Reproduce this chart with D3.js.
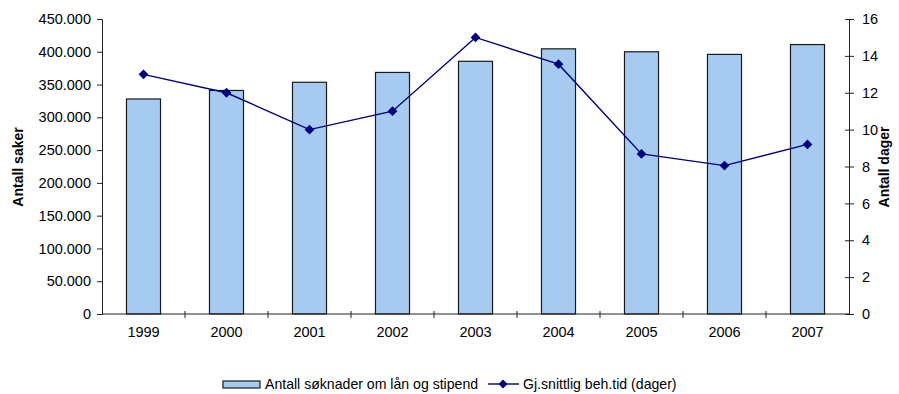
<!DOCTYPE html>
<html><head><meta charset="utf-8">
<script src="https://cdn.jsdelivr.net/npm/d3@7"></script>
<style>
body{margin:0;background:#fff;}
svg{display:block;font-family:"Liberation Sans",Arial,sans-serif;}
</style></head><body>
<svg id="c" width="899" height="394"></svg>
<script>
const years = ["1999","2000","2001","2002","2003","2004","2005","2006","2007"];
const applications = [328000, 341000, 353500, 368500, 385500, 404500, 400000, 396000, 411000];
const days = [13.0, 12.0, 10.0, 11.0, 15.0, 13.55, 8.68, 8.05, 9.2];
const leftTicks = [0,50000,100000,150000,200000,250000,300000,350000,400000,450000];
const rightTicks = [0,2,4,6,8,10,12,14,16];
const seriesNames = ["Antall søknader om lån og stipend","Gj.snittlig beh.tid (dager)"];
const axisTitles = ["Antall saker","Antall dager"];

const svg = d3.select("#c");
const L=102, R=849, T=19, B=314;
const x = d3.scaleBand().domain(years).range([L,R]).paddingInner(0.59).paddingOuter(0.295);
const yL = d3.scaleLinear().domain([0,450000]).range([B,T]);
const yR = d3.scaleLinear().domain([0,16]).range([B,T]);
const fmt = d => d===0 ? "0" : d3.format(",")(d).replace(/,/g,".");
const axisColor="#222";

// bars
svg.append("g").selectAll("rect").data(years).join("rect")
  .attr("x", d=>x(d)).attr("width", x.bandwidth())
  .attr("y", (d,i)=>yL(applications[i])).attr("height",(d,i)=>B-yL(applications[i]))
  .attr("fill","#A6CAF0").attr("stroke","#1a1a1a").attr("stroke-width",1.2);

// left axis
const gl = svg.append("g").attr("transform",`translate(${L},0)`)
  .call(d3.axisLeft(yL).tickValues(leftTicks).tickFormat(fmt).tickSize(5).tickPadding(6));
// right axis
const gr = svg.append("g").attr("transform",`translate(${R},0)`)
  .call(d3.axisRight(yR).tickValues(rightTicks).tickSize(5).tickPadding(8));
gr.selectAll(".tick line").attr("x1",-4);
// bottom axis
const gb = svg.append("g").attr("transform",`translate(0,${B})`)
  .call(d3.axisBottom(x).tickSize(0).tickPadding(13));
gb.select(".domain").attr("d",`M${L},0H${R}`);
const bounds = d3.range(1, years.length).map(i => x(years[i]) - x.step()*x.paddingInner()/2);
gb.selectAll(".bt").data(bounds).join("line").attr("class","bt")
  .attr("x1",d=>d).attr("x2",d=>d).attr("y1",-3).attr("y2",4).attr("stroke",axisColor);

[gl,gr,gb].forEach(g=>{
  g.selectAll(".domain").attr("stroke",axisColor);
  g.selectAll(".tick line").attr("stroke",axisColor);
  g.selectAll("text").attr("font-size",14.5).attr("fill","#000").attr("font-family","Liberation Sans, Arial, sans-serif");
});

// line
const line = d3.line().x((d,i)=>x(years[i])+x.bandwidth()/2).y(d=>yR(d));
svg.append("path").datum(days).attr("d",line).attr("fill","none").attr("stroke","#000080").attr("stroke-width",1.4);
svg.append("g").selectAll("path").data(days).join("path")
  .attr("d", d3.symbol().type(d3.symbolSquare).size(48))
  .attr("transform",(d,i)=>`translate(${x(years[i])+x.bandwidth()/2},${yR(d)}) rotate(45)`)
  .attr("fill","#000080");

// axis titles
svg.append("text").attr("transform","translate(23,167) rotate(-90)").attr("text-anchor","middle")
  .attr("font-size",14).attr("font-weight","bold").text(axisTitles[0]);
svg.append("text").attr("transform","translate(889,167) rotate(-90)").attr("text-anchor","middle")
  .attr("font-size",14).attr("font-weight","bold").text(axisTitles[1]);

// legend
const lg = svg.append("g");
lg.append("rect").attr("x",223).attr("y",381).attr("width",37).attr("height",7)
  .attr("fill","#A6CAF0").attr("stroke","#1a1a1a").attr("stroke-width",1.2);
lg.append("text").attr("x",265).attr("y",389).attr("font-size",14.1).text(seriesNames[0]);
lg.append("line").attr("x1",488).attr("x2",519).attr("y1",384).attr("y2",384).attr("stroke","#000080").attr("stroke-width",1.4);
lg.append("path").attr("d",d3.symbol().type(d3.symbolSquare).size(40)).attr("transform","translate(503,384) rotate(45)").attr("fill","#000080");
lg.append("text").attr("x",523).attr("y",389).attr("font-size",14.1).text(seriesNames[1]);
</script></body></html>
